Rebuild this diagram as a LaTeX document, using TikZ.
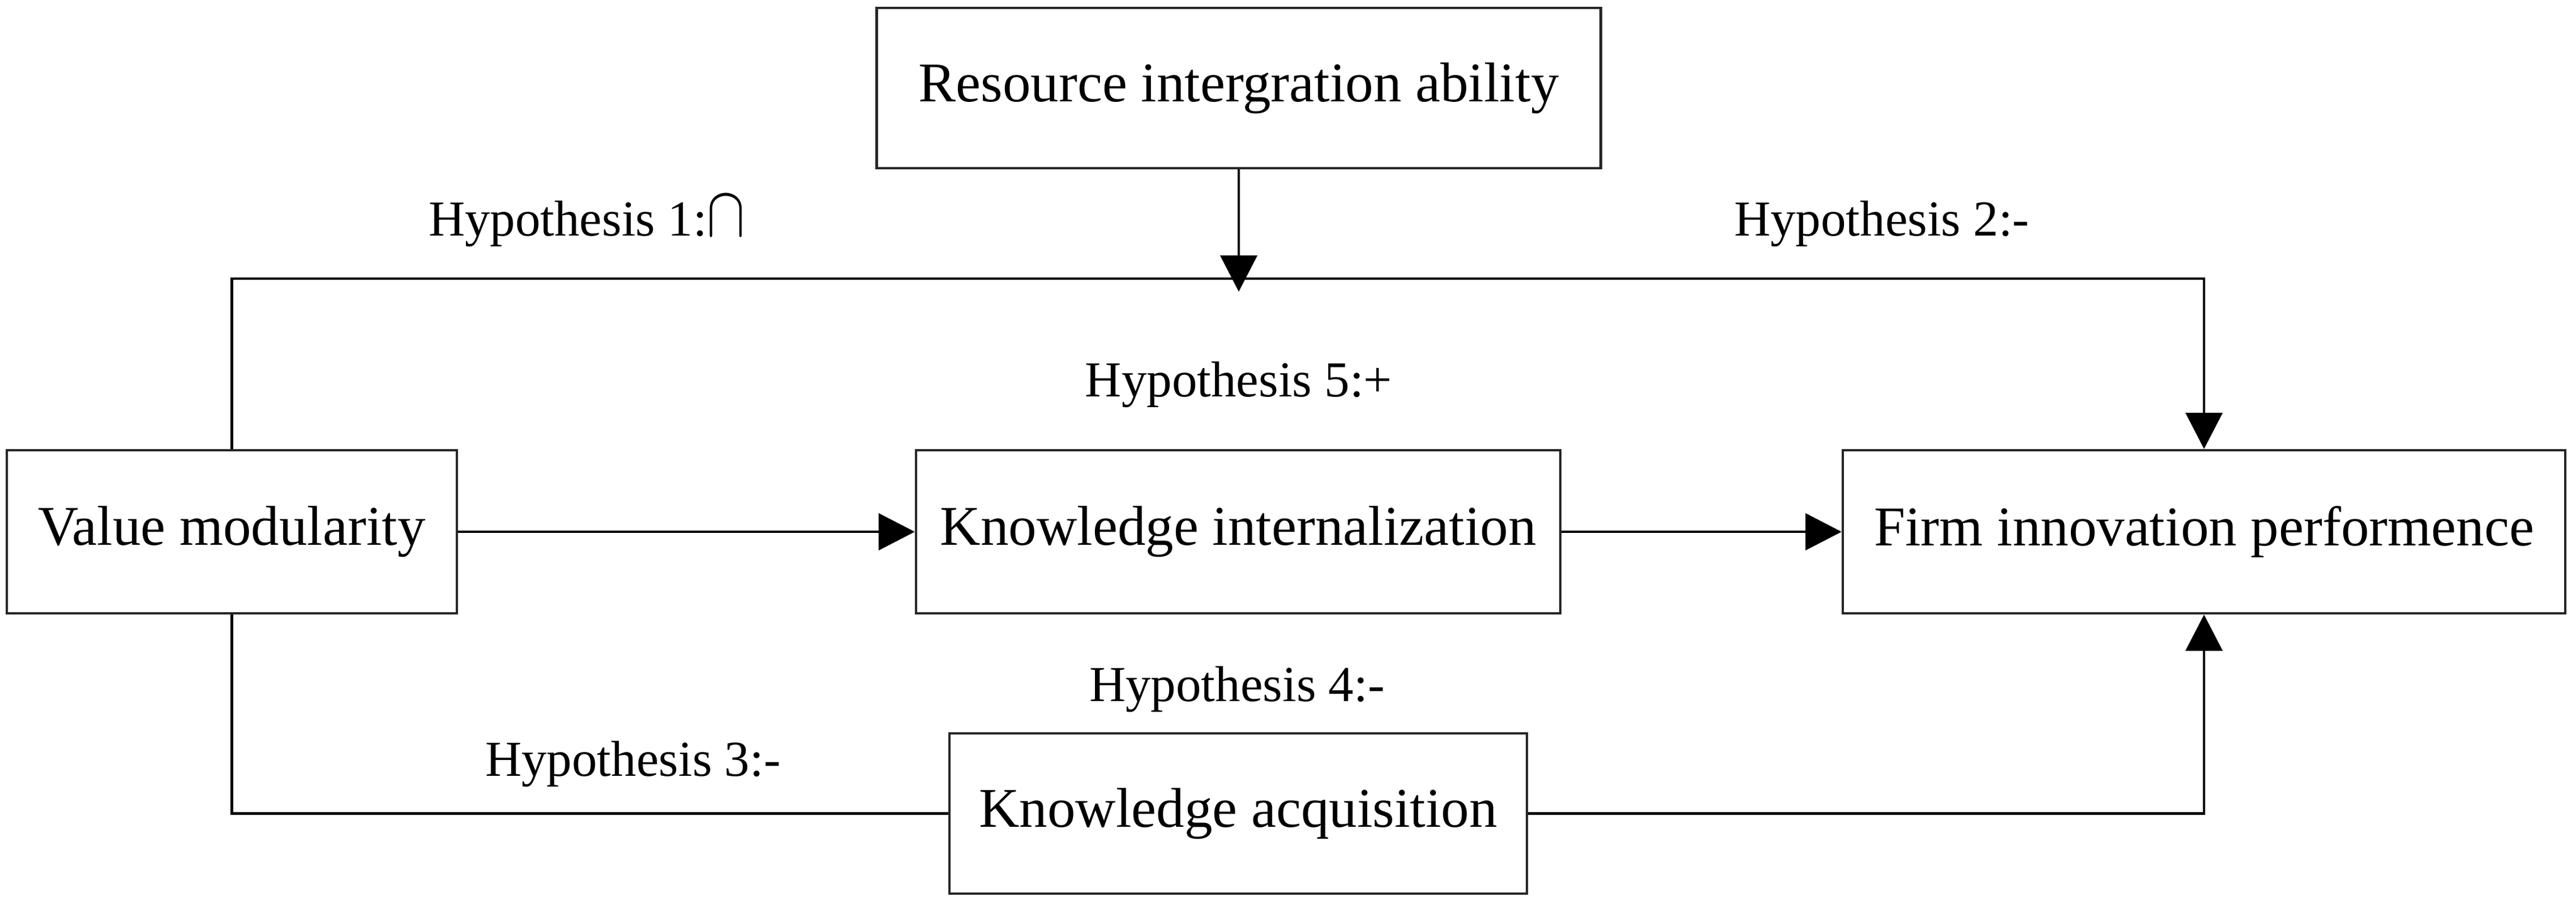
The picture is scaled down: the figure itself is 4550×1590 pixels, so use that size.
\documentclass[tikz,border=0pt]{standalone}
\usepackage{fontspec}
\setmainfont{Liberation Serif}
\usetikzlibrary{arrows.meta}
\tikzset{
  boxnode/.style={draw=black!85, line width=0.45pt, inner sep=0pt, font=\fontsize{9.9}{12}\selectfont},
  hyplabel/.style={inner sep=0pt, font=\fontsize{8.9}{11}\selectfont},
  conn/.style={draw=black, line width=0.42pt},
  arr/.style={conn, -{Triangle[length=6.4pt, width=6.5pt]}}
}
\begin{document}
\begin{tikzpicture}[x=0.1pt, y=-0.1pt]
\useasboundingbox (0,0) rectangle (4550,1590);
% boxes
\node[boxnode, minimum width=127.9pt, minimum height=28.3pt] (res) at (2188,155.5) {Resource intergration ability};
\node[boxnode, minimum width=79.5pt, minimum height=28.8pt] (val) at (409.5,939) {Value modularity};
\node[boxnode, minimum width=113.8pt, minimum height=28.8pt] (ki) at (2187,939) {Knowledge internalization};
\node[boxnode, minimum width=127.6pt, minimum height=28.8pt] (firm) at (3893,939) {Firm innovation performence};
\node[boxnode, minimum width=102pt, minimum height=28.3pt] (ka) at (2187,1436.5) {Knowledge acquisition};
% helper coordinates
\coordinate (top) at (2188,492);
\coordinate (mod) at (2188,515);
% connectors
\draw[arr] (val.north) |- (top) -| (firm.north);
\draw[arr] (res.south) -- (mod);
\draw[arr] (val.east) -- (ki.west);
\draw[arr] (ki.east) -- (firm.west);
\draw[conn] (val.south) |- (ka.west);
\draw[arr] (ka.east) -| (firm.south);
% labels
\node[hyplabel, anchor=base west] (h1) at (755,416) {Hypothesis 1:\raisebox{0pt}{\scalebox{1.1}[1.4]{$\cap$}}};
\node[hyplabel, anchor=base west] (h2) at (3061,416) {Hypothesis 2:-};
\node[hyplabel, anchor=base] (h5) at (2188,700) {Hypothesis 5:+};
\node[hyplabel, anchor=base] (h4) at (2185,1238) {Hypothesis 4:-};
\node[hyplabel, anchor=base] (h3) at (1118,1370) {Hypothesis 3:-};
\end{tikzpicture}
\end{document}
